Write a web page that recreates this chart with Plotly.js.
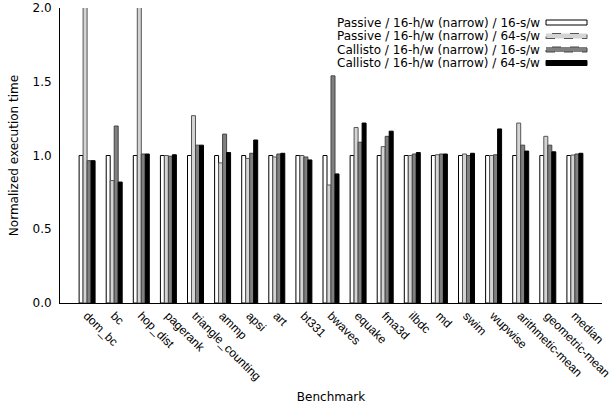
<!DOCTYPE html>
<html>
<head>
<meta charset="utf-8">
<script src="https://cdn.plot.ly/plotly-3.0.1.min.js"></script>
<style>html,body{margin:0;padding:0;background:#fff;}#chart{width:616px;height:404px;}</style>
</head>
<body>
<div id="chart"></div>
<script>
var categories = ['dom_bc','bc','hop_dist','pagerank','triangle_counting','ammp','apsi','art','bt331','bwaves','equake','fma3d','ilbdc','md','swim','wupwise','arithmetic-mean','geometric-mean','median'];
var seriesNames = ['Passive / 16-h/w (narrow) / 16-s/w','Passive / 16-h/w (narrow) / 64-s/w','Callisto / 16-h/w (narrow) / 16-s/w','Callisto / 16-h/w (narrow) / 64-s/w'];
var passive16 = [1.00,1.00,1.00,1.00,1.00,1.00,1.00,1.00,1.00,1.00,1.00,1.00,1.00,1.00,1.00,1.00,1.00,1.00,1.00];
var passive64 = [2.45,0.83,2.45,1.00,1.27,0.95,0.98,0.99,1.00,0.80,1.19,1.06,1.00,1.005,1.01,1.00,1.22,1.13,1.003];
var callisto16 = [0.965,1.20,1.01,0.995,1.07,1.145,1.015,1.01,0.99,1.54,1.09,1.13,1.01,1.01,1.00,1.005,1.07,1.07,1.01];
var callisto64 = [0.965,0.82,1.01,1.005,1.07,1.02,1.105,1.015,0.97,0.875,1.22,1.165,1.02,1.01,1.015,1.18,1.03,1.025,1.015];
var yTicks = [0,0.5,1.0,1.5,2.0];

var FONT = 'DejaVu Sans, Liberation Sans, Arial, sans-serif';
var TICKFONT = 'Liberation Sans, Arial, sans-serif';
var fills = ['#ffffff','#d4d4d4','#808080','#000000'];
var outlines = ['#000000','#555555','#444444','#000000'];
var dashes = ['solid','dash','dash','solid'];
var values = [passive16, passive64, callisto16, callisto64];
var xIdx = categories.map(function(c,i){return i;});

var traces = values.map(function(v,k){
  return {type:'bar', x:xIdx, y:v, name:seriesNames[k],
    marker:{color:fills[k], line:{color:outlines[k], width:1}}, showlegend:false, hoverinfo:'skip'};
});

var shapes = [], annotations = [];
var rowY = [22.5,36,49.5,63];
function py(p){return (303-p)/295;}
function px(p){return (p-60)/542;}
for (var k=0;k<4;k++){
  shapes.push({type:'rect', xref:'paper', yref:'paper', x0:px(546), x1:px(587), y0:py(rowY[k]+2.5), y1:py(rowY[k]-2.5),
    fillcolor:fills[k], line:{color:outlines[k], width:1, dash:dashes[k]}});
  annotations.push({xref:'paper', yref:'paper', x:px(541), y:py(rowY[k]), xanchor:'right', yanchor:'middle',
    text:seriesNames[k], showarrow:false, borderpad:0, font:{family:FONT, size:12, color:'#000'}});
}

var layout = {
  width:616, height:404,
  margin:{l:60, r:14, t:8, b:101},
  paper_bgcolor:'#fff', plot_bgcolor:'#fff',
  font:{family:FONT, size:12, color:'#000'},
  barmode:'group', bargap:0.41, bargroupgap:0,
  xaxis:{range:[-1,19], tickmode:'array', tickvals:xIdx, ticktext:categories, tickangle:45, ticklabeloverflow:'allow',
    tickfont:{family:TICKFONT, size:12, color:'#000'},
    showline:true, linecolor:'#000', linewidth:1, showgrid:false, zeroline:false, ticks:'',
    title:{text:'Benchmark', font:{family:FONT, size:12, color:'#000'}, standoff:10}, automargin:false},
  yaxis:{range:[0,2], tickmode:'array', tickvals:yTicks, tickformat:'.1f', ticklabelstandoff:5,
    tickfont:{family:FONT, size:12, color:'#000'},
    showline:true, linecolor:'#000', linewidth:1, showgrid:false, zeroline:false, ticks:'',
    title:{text:'Normalized execution time', font:{family:FONT, size:12, color:'#000'}, standoff:11}, automargin:false},
  shapes:shapes, annotations:annotations, showlegend:false
};
Plotly.newPlot('chart', traces, layout, {displayModeBar:false, staticPlot:true});
</script>
</body>
</html>
